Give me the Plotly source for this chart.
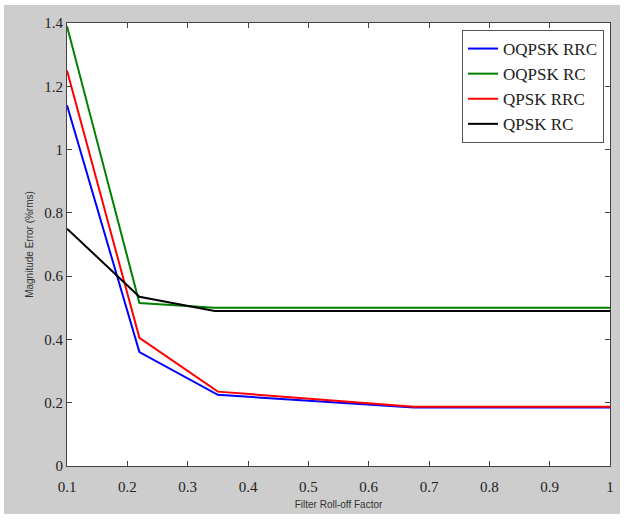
import plotly.graph_objects as go

roll_off_rrc = [0.1, 0.22, 0.35, 0.675, 1.0]
roll_off_rc = [0.1, 0.22, 0.345, 1.0]
oqpsk_rrc = [1.14, 0.36, 0.225, 0.185, 0.185]
oqpsk_rc = [1.39, 0.515, 0.50, 0.50]
qpsk_rrc = [1.25, 0.405, 0.235, 0.187, 0.187]
qpsk_rc = [0.75, 0.535, 0.49, 0.49]

series = [
    ("OQPSK RRC", roll_off_rrc, oqpsk_rrc, "#0000ff"),
    ("OQPSK RC", roll_off_rc, oqpsk_rc, "#008000"),
    ("QPSK RRC", roll_off_rrc, qpsk_rrc, "#ff0000"),
    ("QPSK RC", roll_off_rc, qpsk_rc, "#000000"),
]

x_ticks = [0.1, 0.2, 0.3, 0.4, 0.5, 0.6, 0.7, 0.8, 0.9, 1.0]
x_tick_labels = ["0.1", "0.2", "0.3", "0.4", "0.5", "0.6", "0.7", "0.8", "0.9", "1"]
y_ticks = [0, 0.2, 0.4, 0.6, 0.8, 1.0, 1.2, 1.4]
y_tick_labels = ["0", "0.2", "0.4", "0.6", "0.8", "1", "1.2", "1.4"]

fig = go.Figure()
for name, xs, ys, color in series:
    fig.add_trace(go.Scatter(x=xs, y=ys, mode="lines", name=name,
                             line=dict(color=color, width=2)))

L, R, T, B = 67, 610, 23, 466
W, H = 624, 520
pw, ph = R - L, B - T

def px_x(p):
    return (p - L) / pw

def px_y(p):
    return (B - p) / ph

fig.update_layout(
    width=W, height=H,
    margin=dict(l=L, r=W - R, t=T, b=H - B, pad=0, autoexpand=False),
    paper_bgcolor="white",
    plot_bgcolor="white",
    font=dict(family="Liberation Serif", size=14, color="#222222"),
    showlegend=True,
    legend=dict(
        x=px_x(604), y=px_y(30), xanchor="right", yanchor="top",
        bgcolor="white", bordercolor="#555555", borderwidth=1,
        font=dict(family="Liberation Serif", size=17, color="#222222"),
        tracegroupgap=0, itemwidth=30,
    ),
    shapes=[
        dict(type="rect", xref="paper", yref="paper", layer="below",
             x0=px_x(4), x1=px_x(620), y0=px_y(514), y1=px_y(5),
             fillcolor="#cdcdcd", line=dict(width=0)),
        dict(type="rect", xref="paper", yref="paper", layer="below",
             x0=0, x1=1, y0=0, y1=1,
             fillcolor="white", line=dict(width=0)),
    ],
)

fig.update_xaxes(
    range=[0.1, 1.0], tickvals=x_ticks, ticktext=x_tick_labels,
    showgrid=False, zeroline=False,
    showline=True, linecolor="#444444", linewidth=1, mirror="ticks",
    ticks="inside", ticklen=5, tickcolor="#444444",
    ticklabelstandoff=7,
    tickfont=dict(family="Liberation Serif", size=15, color="#222222"),
    title=dict(text="Filter Roll-off Factor",
               font=dict(family="Liberation Sans", size=10, color="#333333"),
               standoff=6),
    automargin=False,
)
fig.update_yaxes(
    range=[0, 1.4], tickvals=y_ticks, ticktext=y_tick_labels,
    showgrid=False, zeroline=False,
    showline=True, linecolor="#444444", linewidth=1, mirror="ticks",
    ticks="inside", ticklen=5, tickcolor="#444444",
    tickfont=dict(family="Liberation Serif", size=15, color="#222222"),
    title=dict(text="Magnitude Error (%rms)",
               font=dict(family="Liberation Sans", size=10, color="#333333"),
               standoff=8),
    automargin=False,
)

fig.write_html("out.html", config={"displayModeBar": False},
               post_script="document.body.style.margin='0';document.body.style.overflow='hidden';")
